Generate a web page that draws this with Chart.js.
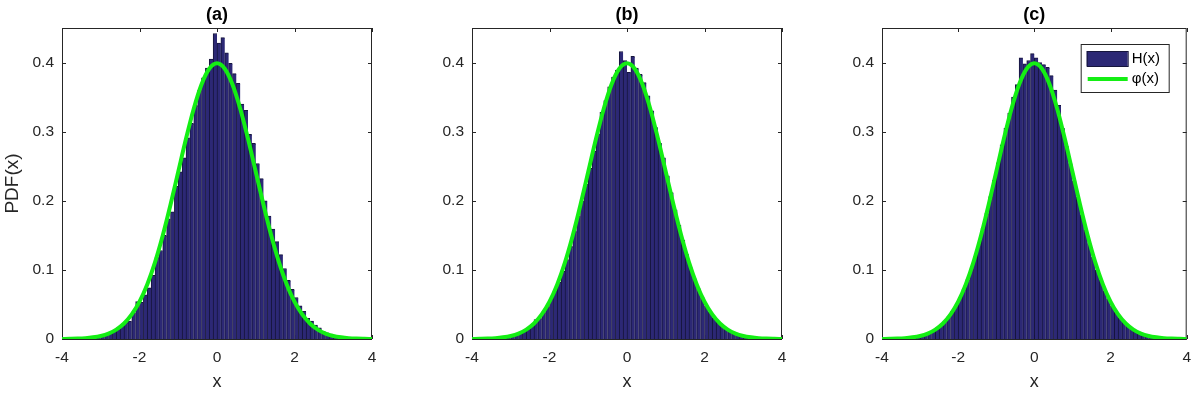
<!DOCTYPE html>
<html>
<head>
<meta charset="utf-8">
<script src="https://cdn.jsdelivr.net/npm/chart.js@4.4.0/dist/chart.umd.min.js"></script>
<style>
  body { margin: 0; background: #fff; width: 1200px; height: 393px; overflow: hidden; position: relative; }
  .panel { position: absolute; top: 0; }
</style>
</head>
<body>
<div class="panel" style="left:0"><canvas id="chartA" width="410" height="393"></canvas></div>
<div class="panel" style="left:410px"><canvas id="chartB" width="410" height="393"></canvas></div>
<div class="panel" style="left:820px"><canvas id="chartC" width="380" height="393"></canvas></div>
<script>
// bin centres of the histograms (bin width 0.1)
const binCenters = [
  -3.45, -3.35, -3.25, -3.15, -3.05, -2.95, -2.85, -2.75, -2.65, -2.55,
  -2.45, -2.35, -2.25, -2.15, -2.05, -1.95, -1.85, -1.75, -1.65, -1.55,
  -1.45, -1.35, -1.25, -1.15, -1.05, -0.95, -0.85, -0.75, -0.65, -0.55,
  -0.45, -0.35, -0.25, -0.15, -0.05, 0.05, 0.15, 0.25, 0.35, 0.45,
  0.55, 0.65, 0.75, 0.85, 0.95, 1.05, 1.15, 1.25, 1.35, 1.45,
  1.55, 1.65, 1.75, 1.85, 1.95, 2.05, 2.15, 2.25, 2.35, 2.45,
  2.55, 2.65, 2.75, 2.85, 2.95, 3.05, 3.15, 3.25, 3.35, 3.45
];

// H(x) for panel (a)
const histA = [
  0.001, 0.002, 0.002, 0.003, 0.004, 0.005, 0.007, 0.009, 0.012, 0.016,
  0.019, 0.024, 0.026, 0.038, 0.054, 0.053, 0.064, 0.074, 0.092, 0.118,
  0.128, 0.150, 0.174, 0.184, 0.221, 0.242, 0.262, 0.291, 0.312, 0.338,
  0.360, 0.378, 0.392, 0.405, 0.442, 0.428, 0.436, 0.414, 0.399, 0.384,
  0.370, 0.340, 0.331, 0.296, 0.283, 0.254, 0.232, 0.200, 0.178, 0.159,
  0.141, 0.122, 0.102, 0.085, 0.072, 0.060, 0.048, 0.040, 0.030, 0.026,
  0.020, 0.016, 0.011, 0.009, 0.007, 0.005, 0.004, 0.003, 0.002, 0.001
];

// H(x) for panel (b)
const histB = [
  0.001, 0.001, 0.002, 0.003, 0.004, 0.005, 0.006, 0.009, 0.011, 0.015,
  0.020, 0.028, 0.030, 0.039, 0.047, 0.058, 0.070, 0.082, 0.098, 0.115,
  0.134, 0.156, 0.178, 0.200, 0.224, 0.247, 0.272, 0.297, 0.328, 0.345,
  0.365, 0.379, 0.389, 0.416, 0.403, 0.386, 0.409, 0.392, 0.383, 0.371,
  0.352, 0.330, 0.306, 0.283, 0.262, 0.236, 0.212, 0.187, 0.165, 0.143,
  0.122, 0.103, 0.087, 0.073, 0.060, 0.048, 0.039, 0.031, 0.025, 0.020,
  0.015, 0.012, 0.009, 0.007, 0.005, 0.004, 0.003, 0.002, 0.001, 0.001
];

// H(x) for panel (c)
const histC = [
  0.001, 0.002, 0.002, 0.003, 0.004, 0.005, 0.007, 0.009, 0.012, 0.016,
  0.020, 0.026, 0.032, 0.040, 0.049, 0.060, 0.072, 0.086, 0.101, 0.119,
  0.138, 0.160, 0.182, 0.206, 0.230, 0.255, 0.281, 0.305, 0.327, 0.350,
  0.368, 0.407, 0.398, 0.403, 0.413, 0.407, 0.400, 0.397, 0.393, 0.381,
  0.360, 0.338, 0.305, 0.279, 0.254, 0.229, 0.205, 0.180, 0.158, 0.138,
  0.118, 0.100, 0.085, 0.070, 0.058, 0.048, 0.039, 0.031, 0.025, 0.019,
  0.015, 0.011, 0.009, 0.007, 0.005, 0.004, 0.003, 0.002, 0.001, 0.001
];

// phi(x)
const curveX = [
  -4.0, -3.8, -3.6, -3.4, -3.2, -3.0, -2.8, -2.6, -2.4, -2.2, -2.0,
  -1.8, -1.6, -1.4, -1.2, -1.0, -0.8, -0.6, -0.4, -0.2, 0.0,
  0.2, 0.4, 0.6, 0.8, 1.0, 1.2, 1.4, 1.6, 1.8, 2.0,
  2.2, 2.4, 2.6, 2.8, 3.0, 3.2, 3.4, 3.6, 3.8, 4.0
];
const curveY = [
  0.0001, 0.0003, 0.0006, 0.0012, 0.0024, 0.0044, 0.0079, 0.0136, 0.0224, 0.0355, 0.0540,
  0.0790, 0.1109, 0.1497, 0.1942, 0.2420, 0.2897, 0.3332, 0.3683, 0.3910, 0.3989,
  0.3910, 0.3683, 0.3332, 0.2897, 0.2420, 0.1942, 0.1497, 0.1109, 0.0790, 0.0540,
  0.0355, 0.0224, 0.0136, 0.0079, 0.0044, 0.0024, 0.0012, 0.0006, 0.0003, 0.0001
];

const xTicks = [-4, -2, 0, 2, 4];
const yTicks = [0, 0.1, 0.2, 0.3, 0.4];

const barFill = '#2c2875';
const barEdge = '#16153c';
const lineGreen = '#14ee14';
const axisColor = '#262626';

Chart.defaults.font.family = '"Liberation Sans", Arial, Helvetica, sans-serif';
Chart.defaults.color = axisColor;

// box round the axes with inward ticks on all four sides
const framePlugin = {
  id: 'frame',
  beforeDatasetsDraw(chart) {
    const { ctx, chartArea: a, scales } = chart;
    ctx.save();
    ctx.strokeStyle = axisColor;
    ctx.lineWidth = 1;
    ctx.strokeRect(a.left + 0.5, a.top + 0.5, a.right - a.left - 1, a.bottom - a.top);
    ctx.beginPath();
    xTicks.forEach(v => {
      const px = Math.round(scales.x.getPixelForValue(v)) + 0.5;
      ctx.moveTo(px, a.bottom); ctx.lineTo(px, a.bottom - 4);
      ctx.moveTo(px, a.top); ctx.lineTo(px, a.top + 4);
    });
    yTicks.forEach(v => {
      const py = Math.round(scales.y.getPixelForValue(v)) + 0.5;
      ctx.moveTo(a.left, py); ctx.lineTo(a.left + 4, py);
      ctx.moveTo(a.right, py); ctx.lineTo(a.right - 4, py);
    });
    ctx.stroke();
    ctx.restore();
  }
};

// panel title, x label and optional y label
const labelsPlugin = {
  id: 'labels',
  afterDraw(chart, args, opts) {
    const { ctx, chartArea: a } = chart;
    const cx = (a.left + a.right) / 2;
    ctx.save();
    ctx.fillStyle = '#000';
    ctx.textAlign = 'center';
    ctx.textBaseline = 'middle';
    ctx.font = 'bold 18px "Liberation Sans", Arial, sans-serif';
    ctx.fillText(opts.title, cx, 15);
    ctx.fillStyle = axisColor;
    ctx.font = '18px "Liberation Sans", Arial, sans-serif';
    ctx.fillText('x', cx, 382);
    if (opts.yLabel) {
      ctx.translate(13, (a.top + a.bottom) / 2);
      ctx.rotate(-Math.PI / 2);
      ctx.font = '19px "Liberation Sans", Arial, sans-serif';
      ctx.fillText(opts.yLabel, 0, 0);
    }
    ctx.restore();
  }
};

// boxed legend inside the top right corner
const legendBoxPlugin = {
  id: 'legendBox',
  afterDraw(chart, args, opts) {
    if (!opts.show) return;
    const { ctx, chartArea: a } = chart;
    const bx = a.right - 106, by = a.top + 16, bw = 88, bh = 48;
    ctx.save();
    ctx.fillStyle = '#fff';
    ctx.fillRect(bx, by, bw, bh);
    ctx.strokeStyle = axisColor;
    ctx.lineWidth = 1;
    ctx.strokeRect(bx + 0.5, by + 0.5, bw, bh);
    ctx.fillStyle = barFill;
    ctx.fillRect(bx + 6, by + 7, 41, 15);
    ctx.strokeStyle = barEdge;
    ctx.strokeRect(bx + 6.5, by + 7.5, 41, 15);
    ctx.strokeStyle = lineGreen;
    ctx.lineWidth = 4;
    ctx.beginPath();
    ctx.moveTo(bx + 7, by + 35);
    ctx.lineTo(bx + 47, by + 35);
    ctx.stroke();
    ctx.fillStyle = '#000';
    ctx.textAlign = 'left';
    ctx.textBaseline = 'middle';
    ctx.font = '15px "Liberation Sans", Arial, sans-serif';
    ctx.fillText('H(x)', bx + 51, by + 15);
    ctx.fillText('\u03c6(x)', bx + 51, by + 35);
    ctx.restore();
  }
};

function makeChart(id, hist, title, yLabel, padRight, showLegend) {
  const ctx = document.getElementById(id).getContext('2d');
  return new Chart(ctx, {
    data: {
      datasets: [
        {
          type: 'line',
          label: '\u03c6(x)',
          data: curveX.map((x, i) => ({ x: x, y: curveY[i] })),
          borderColor: lineGreen,
          borderWidth: 4,
          pointRadius: 0,
          cubicInterpolationMode: 'monotone',
          order: 0
        },
        {
          type: 'bar',
          label: 'H(x)',
          data: binCenters.map((x, i) => ({ x: x, y: hist[i] })),
          backgroundColor: barFill,
          borderColor: barEdge,
          borderWidth: { left: 1, right: 0, top: 1, bottom: 0 },
          borderSkipped: false,
          barPercentage: 1,
          categoryPercentage: 1,
          order: 1
        }
      ]
    },
    options: {
      responsive: false,
      animation: false,
      layout: { padding: { top: 28, right: padRight, left: 0, bottom: 0 } },
      plugins: {
        legend: { display: false },
        tooltip: { enabled: false },
        labels: { title: title, yLabel: yLabel },
        legendBox: { show: showLegend }
      },
      scales: {
        x: {
          type: 'linear',
          offset: false,
          min: -4,
          max: 4,
          afterBuildTicks: s => { s.ticks = xTicks.map(v => ({ value: v })); },
          afterFit: s => { s.height = 54; },
          grid: { display: false, drawTicks: false, offset: false },
          border: { display: false },
          ticks: { font: { size: 15.5 }, color: axisColor, padding: 9, maxRotation: 0 }
        },
        y: {
          type: 'linear',
          min: 0,
          max: 0.45,
          afterBuildTicks: s => { s.ticks = yTicks.map(v => ({ value: v })); },
          afterFit: s => { s.width = 62; },
          grid: { display: false, drawTicks: false },
          border: { display: false },
          ticks: { font: { size: 15.5 }, color: axisColor, padding: 8 }
        }
      }
    },
    plugins: [framePlugin, labelsPlugin, legendBoxPlugin]
  });
}

makeChart('chartA', histA, '(a)', 'PDF(x)', 38, false);
makeChart('chartB', histB, '(b)', null, 38, false);
makeChart('chartC', histC, '(c)', null, 8, true);
</script>
</body>
</html>
